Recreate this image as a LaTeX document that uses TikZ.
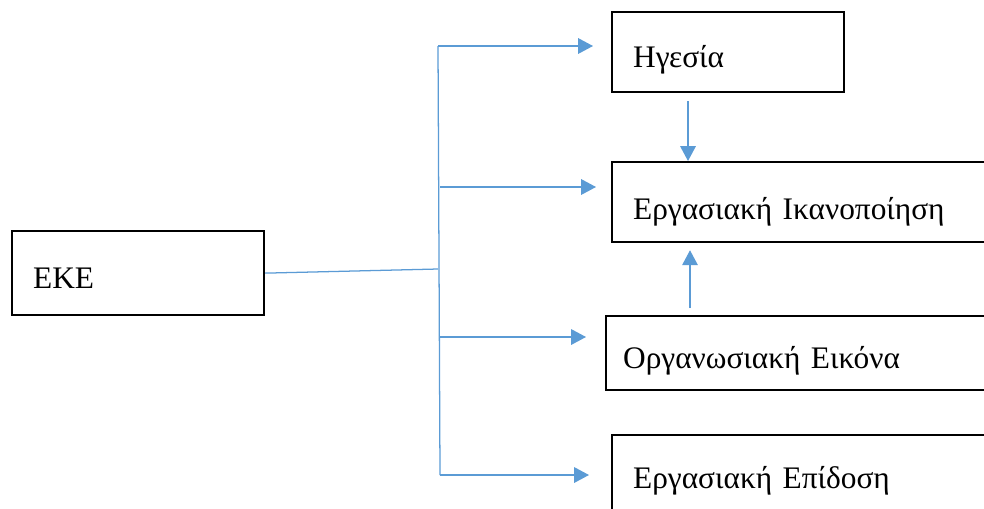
\documentclass[tikz,border=0pt]{standalone}
\usepackage{fontspec}
\setmainfont[WordSpace=0.7]{Liberation Serif}
\usetikzlibrary{arrows.meta, positioning, calc}
\definecolor{lineblue}{HTML}{5B9BD5}
\newlength\pxu
\setlength\pxu{0.025cm}

\begin{document}
\begin{tikzpicture}[
      x=0.025cm, y=-0.025cm,
      box/.style={rectangle, draw, line width=1.6pt, anchor=north west, align=left, inner xsep=21*\pxu, inner ysep=0pt, text depth=0pt, font=\fontsize{22.3}{26}\selectfont},
      arrow/.style={-{Triangle[length=10.5pt, width=11pt]}, line width=0.9pt, draw=lineblue, fill=lineblue}
    ]
    \useasboundingbox (0,0) rectangle (984,508);

    \node[box, minimum width=252*\pxu, minimum height=84*\pxu, text width=210*\pxu, text height=30*\pxu] (eke) at (11,230) {ΕΚΕ};
    \node[box, minimum width=232*\pxu, minimum height=80*\pxu, text width=190*\pxu, text height=30*\pxu] (lead) at (611,11) {Ηγεσία};
    \node[box, minimum width=389*\pxu, minimum height=80*\pxu, text width=347*\pxu, text height=34*\pxu] (sat) at (611,161) {Εργασιακή Ικανοποίηση};
    \node[box, inner xsep=17*\pxu, minimum width=395*\pxu, minimum height=74*\pxu, text width=361*\pxu, text height=30*\pxu] (image) at (605,315) {Οργανωσιακή Εικόνα};
    \node[box, minimum width=389*\pxu, minimum height=80*\pxu, text width=347*\pxu, text height=26*\pxu] (perf) at (611,434) {Εργασιακή Επίδοση};

    % branch points on the trunk
    \coordinate (j0) at (438,269);
    \coordinate (j1) at (438,46);
    \coordinate (j2) at (440,187);
    \coordinate (j3) at (440,337);
    \coordinate (j4) at (440,475);

    \draw[lineblue, line width=0.9pt] (eke.east) -- (j0);
    \draw[lineblue, line width=0.9pt] (j1) -- (j4);

    \draw[arrow, shorten >=18*\pxu] (j1) -- (lead.west |- j1);
    \draw[arrow, shorten >=15*\pxu] (j2) -- (sat.west |- j2);
    \draw[arrow, shorten >=19*\pxu] (j3) -- (image.west |- j3);
    \draw[arrow, shorten >=22*\pxu] (j4) -- (perf.west |- j4);

    \draw[arrow, shorten <=8*\pxu] ($(lead.south west)+(77,0)$) -- ($(sat.north west)+(77,0)$);
    \draw[arrow, shorten <=7*\pxu, shorten >=7*\pxu] ($(image.north west)+(85,0)$) -- ($(sat.south west)+(79,0)$);
  \end{tikzpicture}
\end{document}
